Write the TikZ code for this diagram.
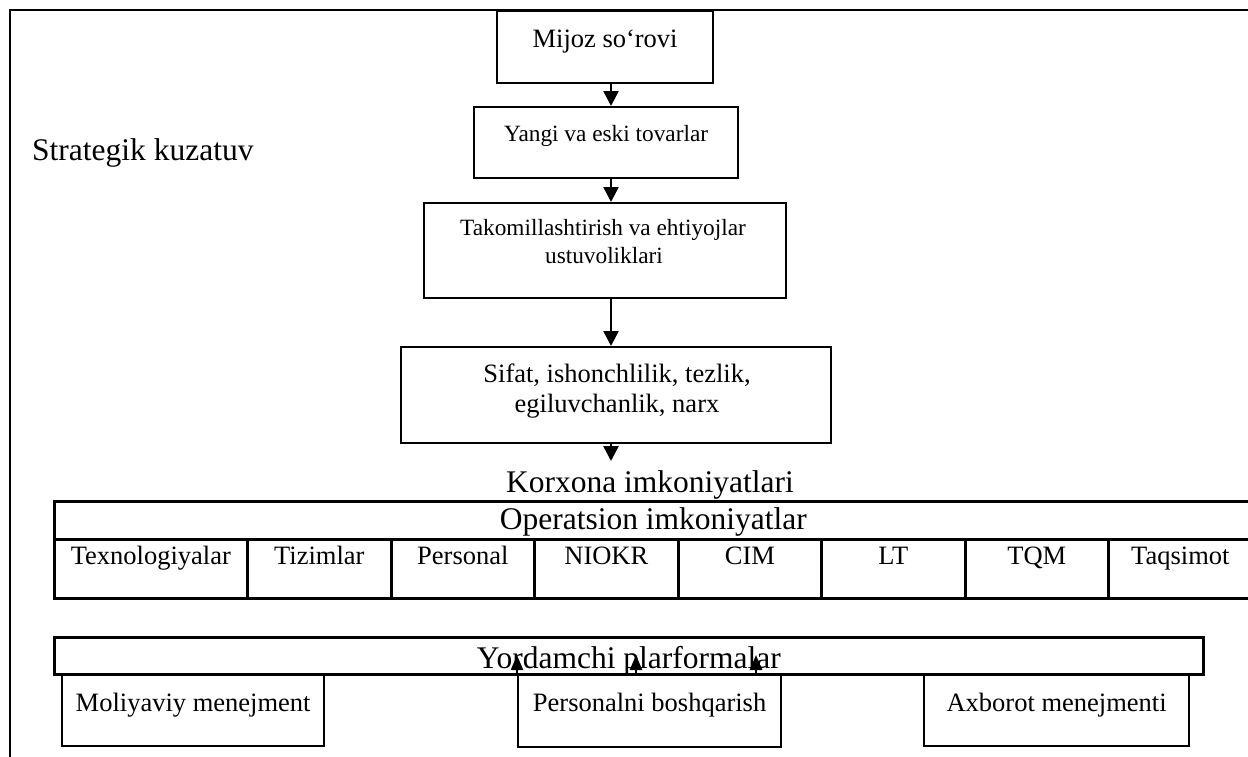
\documentclass[tikz,border=0pt]{standalone}
\usepackage{fontspec}
\setmainfont{Liberation Serif}
\usetikzlibrary{arrows.meta}
\newcommand\fsmain{\fontsize{26.5}{30}\selectfont}
\newcommand\fssmall{\fontsize{23.3}{27}\selectfont}
\newcommand\fsbig{\fontsize{31.5}{36}\selectfont}
\begin{document}
\begin{tikzpicture}[x=1pt,y=-1pt,
  frameline/.style={line width=2.7pt},
  box/.style={draw, line width=2.2pt, inner sep=0pt, anchor=north west},
  cell/.style={draw, line width=2.7pt, inner sep=0pt, anchor=north west, font=\fsmain, text height=18pt, text depth=27pt},
  ltxt/.style={anchor=base, inner sep=0pt},
  arr/.style={line width=2.5pt, -{Triangle[width=15pt,length=15pt]}},
  uparr/.style={line width=2.3pt, -{Triangle[width=12pt,length=15pt]}},
]
\useasboundingbox (0,0) rectangle (1248,756);
\fill[white] (0,0) rectangle (1248,756);
% outer frame (only left and top edges visible)
\draw[frameline] (10,780) -- (10,10) -- (1270,10);

\coordinate (ax) at (611,0);

% title
\node[ltxt, anchor=base west, font=\fsbig] (strat) at (32,160) {Strategik kuzatuv};

% flow boxes
\node[box, minimum width=216pt, minimum height=72pt, font=\fsmain, text height=18pt, text depth=16.6pt] (mijoz) at (496,10) {Mijoz so‘rovi};
\node[box, minimum width=264pt, minimum height=71pt, font=\fssmall, text height=16pt, text depth=19pt] (yangi) at (473,106) {Yangi va eski tovarlar};
\node[box, minimum width=362pt, minimum height=95pt] (takom) at (423,202) {};
\node[ltxt, font=\fssmall] (takomA) at (603,235) {Takomillashtirish va ehtiyojlar};
\node[ltxt, font=\fssmall] (takomB) at (604,263) {ustuvoliklari};
\node[box, minimum width=430pt, minimum height=96pt] (sifat) at (400,346) {};
\node[ltxt, font=\fsmain] (sifatA) at (617,382) {Sifat, ishonchlilik, tezlik,};
\node[ltxt, font=\fsmain] (sifatB) at (617,412) {egiluvchanlik, narx};

\node[ltxt, font=\fsbig] (korx) at (650,492) {Korxona imkoniyatlari};
\coordinate (korxtip) at (611,461);

% table
\node[cell, minimum width=1198pt, minimum height=38pt, font=\fsbig, text height=22pt, text depth=4pt] (oper) at (53,500) {Operatsion imkoniyatlar};
\node[cell, minimum width=193pt, minimum height=59pt] (c1) at (53,538) {Texnologiyalar};
\node[cell, minimum width=144pt, minimum height=59pt] (c2) at (246,538) {Tizimlar};
\node[cell, minimum width=143pt, minimum height=59pt] (c3) at (390,538) {Personal};
\node[cell, minimum width=144pt, minimum height=59pt] (c4) at (533,538) {NIOKR};
\node[cell, minimum width=143pt, minimum height=59pt] (c5) at (677,538) {CIM};
\node[cell, minimum width=144pt, minimum height=59pt] (c6) at (820,538) {LT};
\node[cell, minimum width=143pt, minimum height=59pt] (c7) at (964,538) {TQM};
\node[cell, minimum width=144pt, minimum height=59pt] (c8) at (1107,538) {Taqsimot};

% support platforms bar
\node[box, line width=2.7pt, minimum width=1149pt, minimum height=37pt, font=\fsbig, text height=25pt, text depth=0pt] (yord) at (53,636) {Yordamchi plarformalar};

\node[box, minimum width=262pt, minimum height=72pt, font=\fsmain, text height=18pt, text depth=16pt] (moli) at (61,673) {Moliyaviy menejment};
\node[box, minimum width=263pt, minimum height=73pt, font=\fsmain, text height=18pt, text depth=16pt] (pers) at (517,673) {Personalni boshqarish};
\node[box, minimum width=265pt, minimum height=72pt, font=\fsmain, text height=18pt, text depth=16pt] (axb) at (923,673) {Axborot menejmenti};

% connectors
\draw[arr] (mijoz.south -| ax) -- (yangi.north -| ax);
\draw[arr] (yangi.south -| ax) -- (takom.north -| ax);
\draw[arr] (takom.south -| ax) -- (sifat.north -| ax);
\draw[arr] (sifat.south -| ax) -- (korxtip);

\coordinate (u1) at (517,655);
\coordinate (u2) at (636,655);
\coordinate (u3) at (756,655);
\draw[uparr] (pers.north west) -- (u1);
\draw[uparr] (pers.north -| u2) -- (u2);
\draw[uparr] (pers.north -| u3) -- (u3);
\end{tikzpicture}
\end{document}
